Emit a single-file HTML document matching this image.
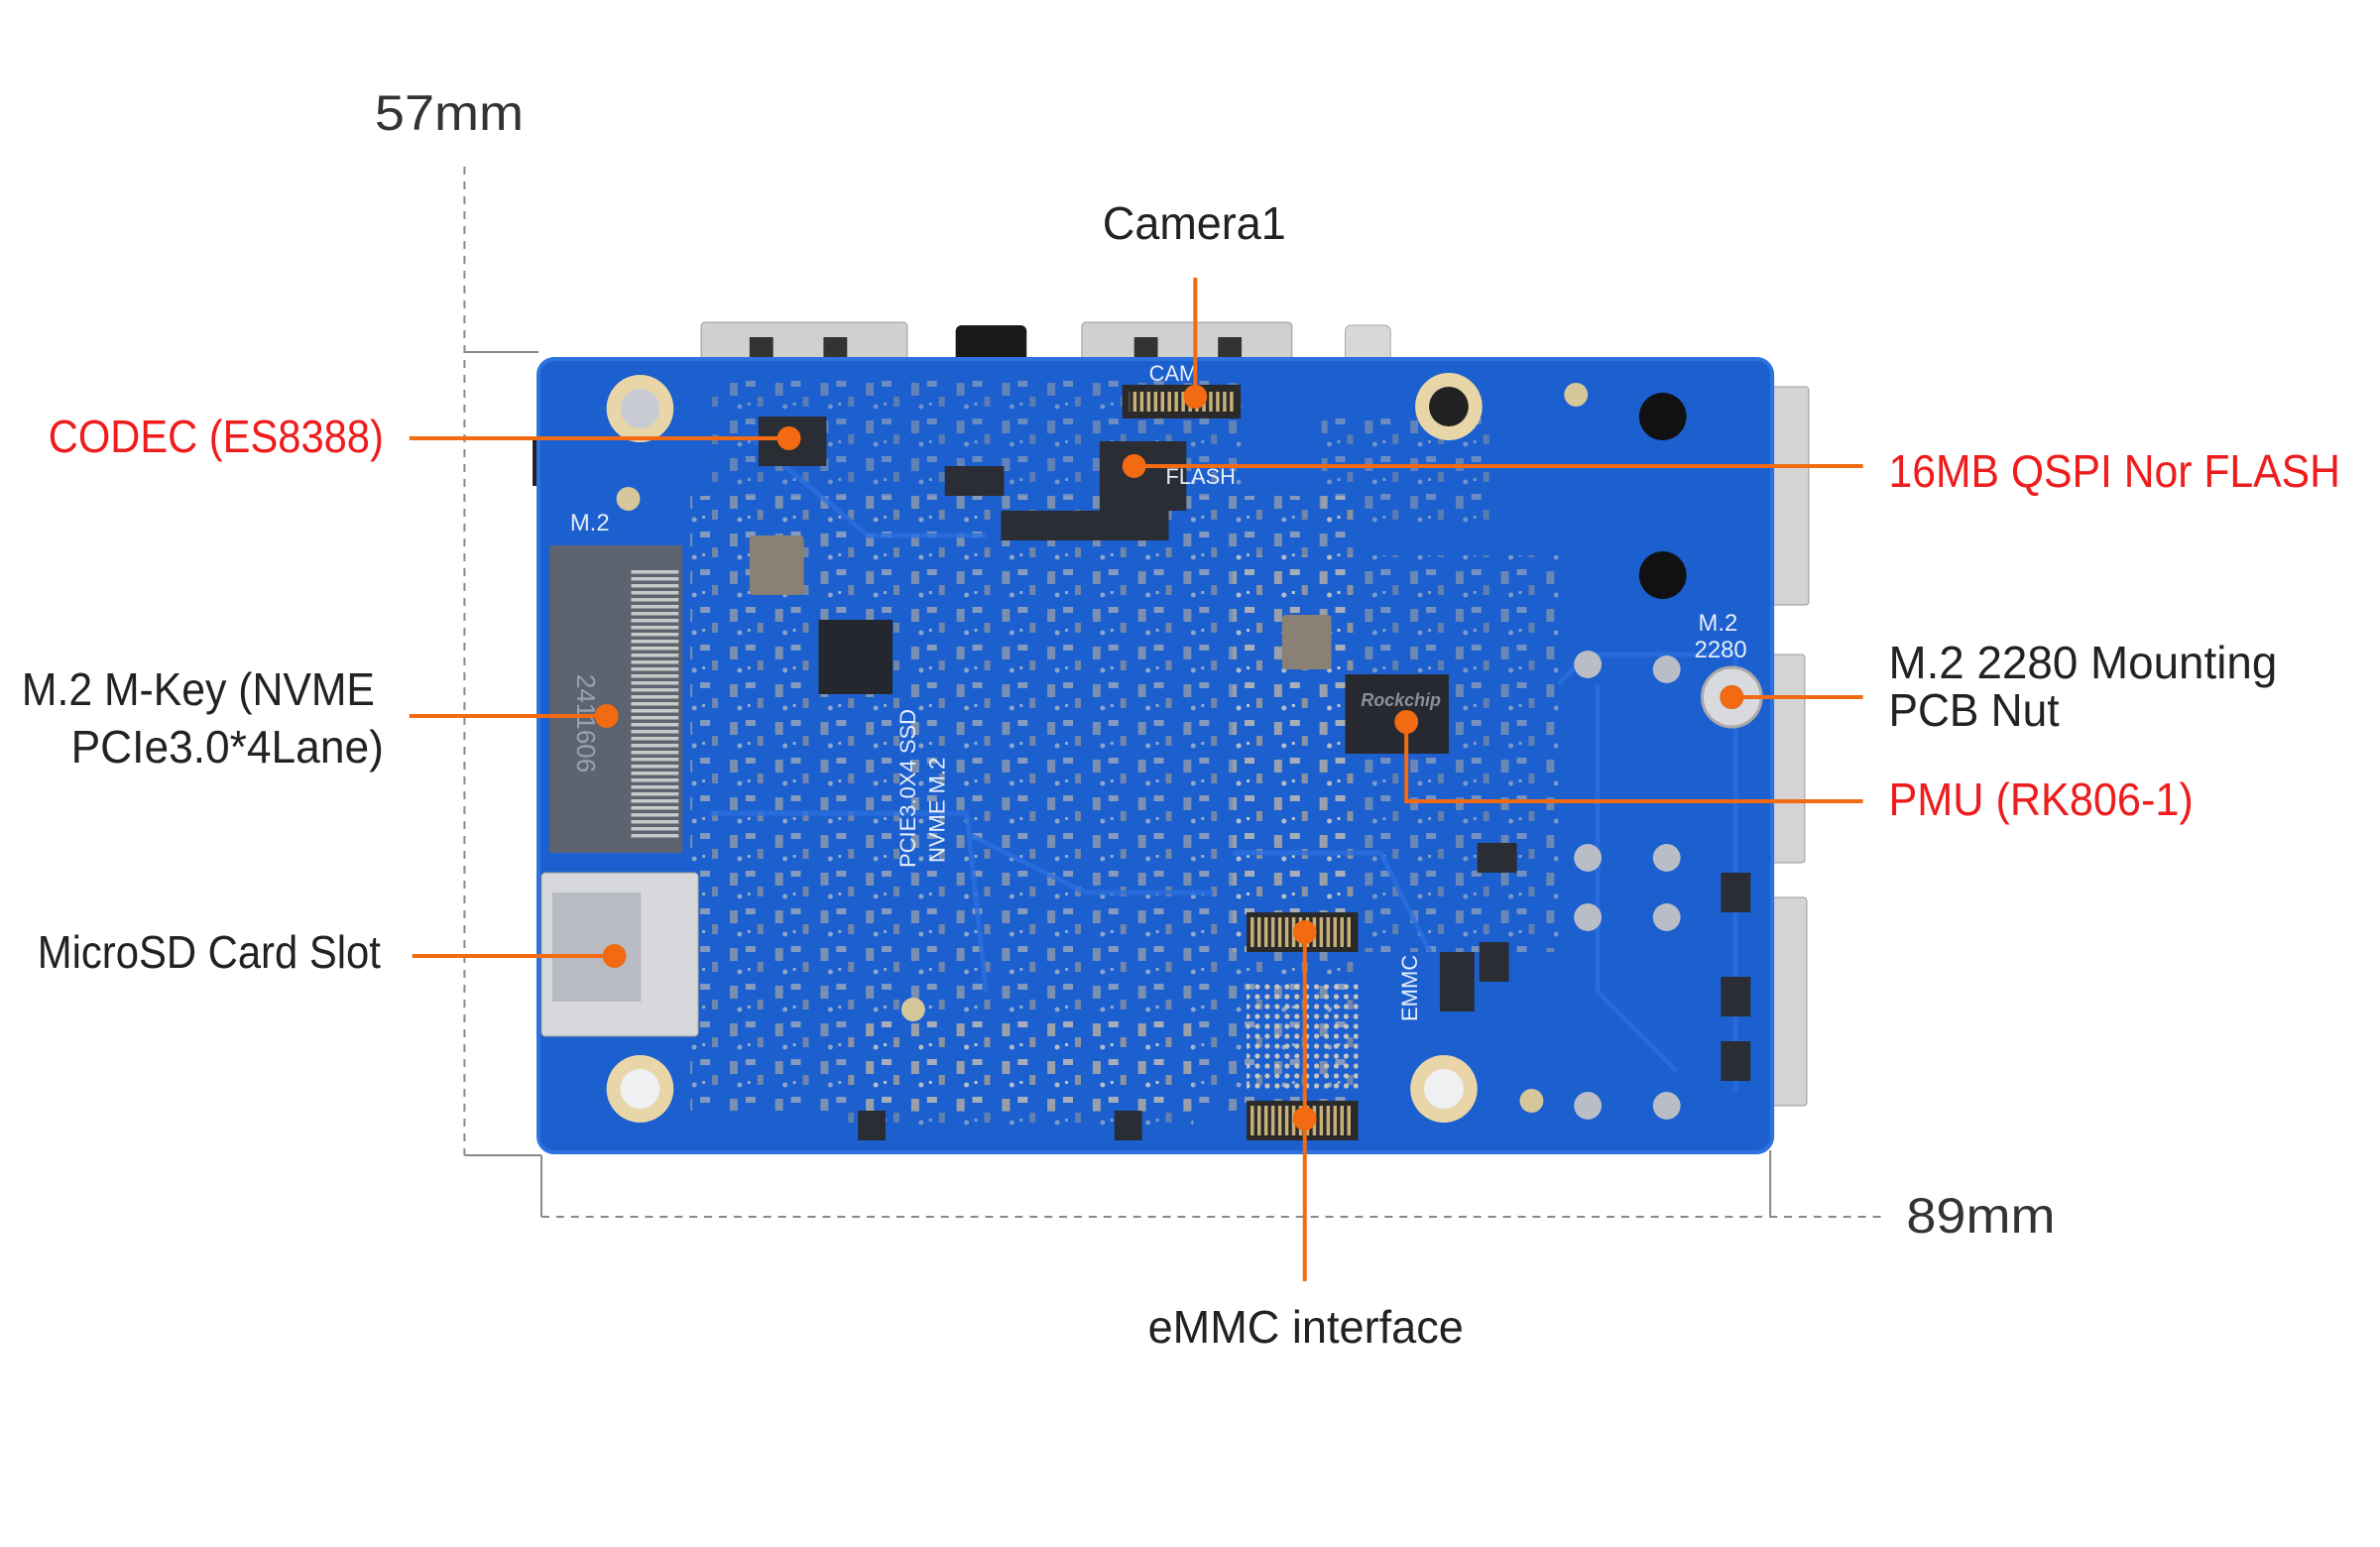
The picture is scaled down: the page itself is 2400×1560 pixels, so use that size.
<!DOCTYPE html>
<html><head><meta charset="utf-8"><style>
html,body{margin:0;padding:0;background:#fff;width:2400px;height:1560px;overflow:hidden}
svg{display:block}
text{font-family:"Liberation Sans","DejaVu Sans",sans-serif}
</style></head><body>
<svg width="2400" height="1560" viewBox="0 0 2400 1560" xmlns="http://www.w3.org/2000/svg">
<defs>
<pattern id="comp" x="0" y="0" width="46" height="38" patternUnits="userSpaceOnUse">
<rect x="4" y="6" width="8" height="13" fill="#b8b0a0"/><rect x="20" y="4" width="10" height="6" fill="#c9c2b3"/>
<rect x="32" y="20" width="6" height="10" fill="#a9a090"/><circle cx="14" cy="30" r="2.5" fill="#d9d4c8"/>
<rect x="22" y="26" width="3" height="3" fill="#e0dccf"/>
</pattern>
<pattern id="bga" width="10" height="10" patternUnits="userSpaceOnUse"><circle cx="5" cy="5" r="2.6" fill="#c8c6c0"/></pattern>
<pattern id="pins" width="7" height="10" patternUnits="userSpaceOnUse"><rect x="1" y="0" width="3.5" height="10" fill="#c8b07a"/></pattern>
<pattern id="hpins" width="10" height="7" patternUnits="userSpaceOnUse"><rect x="0" y="1" width="10" height="3.5" fill="#c9c9c9"/></pattern>
</defs>
<g transform="scale(0.9945,1)">
<!-- top connectors -->
<rect x="711" y="325" width="209" height="45" rx="4" fill="#d0d0d0" stroke="#999"/>
<rect x="760" y="340" width="24" height="22" fill="#333"/><rect x="835" y="340" width="24" height="22" fill="#333"/>
<rect x="969" y="328" width="72" height="40" rx="6" fill="#1a1a1a"/>
<rect x="1097" y="325" width="213" height="45" rx="4" fill="#d0d0d0" stroke="#999"/>
<rect x="1150" y="340" width="24" height="22" fill="#333"/><rect x="1235" y="340" width="24" height="22" fill="#333"/>
<rect x="1364" y="328" width="46" height="40" rx="6" fill="#d8d8d8" stroke="#aaa"/>
<!-- right connectors -->
<rect x="1790" y="390" width="44" height="220" rx="3" fill="#d4d4d4" stroke="#999"/>
<rect x="1790" y="660" width="40" height="210" rx="3" fill="#d4d4d4" stroke="#999"/>
<rect x="1790" y="905" width="42" height="210" rx="3" fill="#d4d4d4" stroke="#999"/>
<rect x="540" y="440" width="12" height="50" fill="#222"/>

<!-- board -->
<rect x="546" y="362" width="1251" height="800" rx="16" fill="#1c5fce"/>
<rect x="546" y="362" width="1251" height="800" rx="16" fill="none" stroke="#2d73e0" stroke-width="4"/>
<rect x="700" y="500" width="680" height="620" fill="url(#comp)" opacity="0.6"/>
<rect x="1250" y="560" width="330" height="400" fill="url(#comp)" opacity="0.5"/>
<rect x="720" y="380" width="540" height="120" fill="url(#comp)" opacity="0.45"/>
<rect x="1340" y="420" width="180" height="110" fill="url(#comp)" opacity="0.45"/>
<rect x="860" y="1030" width="350" height="110" fill="url(#comp)" opacity="0.5"/>
<!-- traces -->
<g fill="none" stroke="#2a6ee0" stroke-width="5" opacity="0.8">
<path d="M1580 690 L1610 660 L1760 660 L1760 1100"/><path d="M1620 690 L1620 1000 L1700 1080"/>
<path d="M980 840 L1100 900 L1230 900"/><path d="M720 820 L980 820 L1000 1000"/>
<path d="M1250 860 L1400 860 L1450 960"/><path d="M760 440 L880 540 L1000 540"/>
</g>
<!-- mounting holes -->
<g><circle cx="649" cy="412" r="34" fill="#e8d6a8"/><circle cx="649" cy="412" r="20" fill="#c8ccd2"/>
<circle cx="1469" cy="410" r="34" fill="#e8d6a8"/><circle cx="1469" cy="410" r="20" fill="#222"/>
<circle cx="649" cy="1098" r="34" fill="#e8d6a8"/><circle cx="649" cy="1098" r="20" fill="#eef0f2"/>
<circle cx="1464" cy="1098" r="34" fill="#e8d6a8"/><circle cx="1464" cy="1098" r="20" fill="#eef0f2"/></g>
<circle cx="1686" cy="420" r="24" fill="#111"/><circle cx="1686" cy="580" r="24" fill="#111"/>
<circle cx="1598" cy="398" r="12" fill="#d6c79a"/><circle cx="637" cy="503" r="12" fill="#d6c79a"/>
<circle cx="926" cy="1018" r="12" fill="#d6c79a"/><circle cx="1553" cy="1110" r="12" fill="#d6c79a"/>
<g fill="#b9bec6"><circle cx="1610" cy="670" r="14"/><circle cx="1690" cy="675" r="14"/>
<circle cx="1610" cy="865" r="14"/><circle cx="1690" cy="865" r="14"/><circle cx="1610" cy="925" r="14"/><circle cx="1690" cy="925" r="14"/>
<circle cx="1610" cy="1115" r="14"/><circle cx="1690" cy="1115" r="14"/></g>
<!-- M.2 2280 nut -->
<circle cx="1756" cy="703" r="30" fill="#d8dade" stroke="#aaa" stroke-width="3"/><circle cx="1756" cy="703" r="12" fill="#222"/>
<text x="1722" y="636" font-size="24" fill="#e6eef9">M.2</text><text x="1718" y="663" font-size="24" fill="#e6eef9">2280</text>
<!-- M.2 connector -->
<rect x="557" y="550" width="135" height="310" fill="#5d6470"/>
<rect x="640" y="575" width="48" height="270" fill="url(#hpins)"/>
<text x="578" y="535" font-size="24" fill="#e6eef9">M.2</text>
<text transform="translate(585,680) rotate(90)" font-size="26" fill="#9aa2ae">2411606</text>
<!-- SD slot -->
<rect x="549" y="880" width="159" height="165" rx="4" fill="#d6d8dc" stroke="#999"/>
<rect x="560" y="900" width="90" height="110" fill="#b8bcc2"/>
<!-- chips -->
<rect x="769" y="420" width="69" height="50" fill="#2a2d34"/>
<rect x="830" y="625" width="75" height="75" fill="#24272d"/>
<rect x="1115" y="445" width="88" height="70" fill="#2a2d34"/>
<rect x="1138" y="388" width="120" height="34" fill="#2a2a2a"/><rect x="1145" y="395" width="106" height="20" fill="url(#pins)"/>
<rect x="1364" y="680" width="105" height="80" fill="#26292f"/>
<text x="1380" y="712" font-size="18" fill="#8a8f98" font-style="italic" font-weight="bold">Rockchip</text>
<rect x="760" y="540" width="55" height="60" rx="4" fill="#8a8174"/>
<rect x="1300" y="620" width="50" height="55" rx="4" fill="#8a8174"/>
<rect x="1264" y="920" width="113" height="40" fill="#2a2a2a"/><rect x="1268" y="925" width="105" height="30" fill="url(#pins)"/>
<rect x="1264" y="1110" width="113" height="40" fill="#2a2a2a"/><rect x="1268" y="1115" width="105" height="30" fill="url(#pins)"/>
<rect x="1264" y="990" width="113" height="110" fill="url(#bga)"/>
<text x="1182" y="488" font-size="22" fill="#e6eef9">FLASH</text>
<text x="1165" y="384" font-size="22" fill="#e6eef9">CAM</text>
<text transform="translate(928,875) rotate(-90)" font-size="22" fill="#e6eef9">PCIE3.0X4  SSD</text>
<text transform="translate(958,870) rotate(-90)" font-size="22" fill="#e6eef9">NVME M.2</text>
<text transform="translate(1437,1030) rotate(-90)" font-size="22" fill="#e6eef9">EMMC</text>
<g fill="#2a2d34"><rect x="958" y="470" width="60" height="30"/><rect x="1015" y="515" width="170" height="30"/><rect x="1498" y="850" width="40" height="30"/><rect x="1460" y="960" width="35" height="60"/><rect x="1500" y="950" width="30" height="40"/><rect x="1745" y="880" width="30" height="40"/><rect x="1745" y="985" width="30" height="40"/><rect x="1745" y="1050" width="30" height="40"/><rect x="870" y="1120" width="28" height="30"/><rect x="1130" y="1120" width="28" height="30"/></g>

<!-- dimension lines -->
<g stroke="#888" stroke-width="2" fill="none">
<path d="M471 168 L471 1165" stroke-dasharray="8 7"/>
<path d="M471 355 L546 355"/><path d="M471 1165 L549 1165"/>
<path d="M549 1165 L549 1227"/><path d="M1795 1160 L1795 1227"/>
<path d="M549 1227 L1907 1227" stroke-dasharray="8 7"/>
</g>
<text x="380" y="131" font-size="50" fill="#333" textLength="151" lengthAdjust="spacingAndGlyphs">57mm</text>
<text x="1933" y="1243" font-size="50" fill="#333" textLength="151" lengthAdjust="spacingAndGlyphs">89mm</text>

<!-- callout lines -->
<g stroke="#f26a12" stroke-width="4" fill="none">
<path d="M1212 280 L1212 400"/>
<path d="M415 442 L800 442"/>
<path d="M1150 470 L1889 470"/>
<path d="M415 722 L615 722"/>
<path d="M418 964 L623 964"/>
<path d="M1756 703 L1889 703"/>
<path d="M1426 728 L1426 808 L1889 808"/>
<path d="M1323 940 L1323 1292"/>
</g>
<g fill="#f26a12">
<circle cx="1212" cy="400" r="12"/><circle cx="800" cy="442" r="12"/><circle cx="1150" cy="470" r="12"/>
<circle cx="615" cy="722" r="12"/><circle cx="623" cy="964" r="12"/><circle cx="1756" cy="703" r="12"/>
<circle cx="1426" cy="728" r="12"/><circle cx="1323" cy="940" r="12"/><circle cx="1323" cy="1128" r="12"/>
</g>

<!-- labels -->
<g font-size="46" fill="#222">
<text x="1118" y="241" textLength="186" lengthAdjust="spacingAndGlyphs">Camera1</text>
<text x="22" y="711" textLength="358" lengthAdjust="spacingAndGlyphs">M.2 M-Key (NVME</text>
<text x="72" y="769" textLength="317" lengthAdjust="spacingAndGlyphs">PCIe3.0*4Lane)</text>
<text x="38" y="976" textLength="348" lengthAdjust="spacingAndGlyphs">MicroSD Card Slot</text>
<text x="1915" y="684" textLength="394" lengthAdjust="spacingAndGlyphs">M.2 2280 Mounting</text>
<text x="1915" y="732" textLength="173" lengthAdjust="spacingAndGlyphs">PCB Nut</text>
<text x="1164" y="1354" textLength="320" lengthAdjust="spacingAndGlyphs">eMMC interface</text>
</g>
<g font-size="46" fill="#ee1c1c">
<text x="49" y="456" textLength="340" lengthAdjust="spacingAndGlyphs">CODEC (ES8388)</text>
<text x="1915" y="491" textLength="458" lengthAdjust="spacingAndGlyphs">16MB QSPI Nor FLASH</text>
<text x="1915" y="822" textLength="309" lengthAdjust="spacingAndGlyphs">PMU (RK806-1)</text>
</g>
</g>
</svg>
</body></html>
